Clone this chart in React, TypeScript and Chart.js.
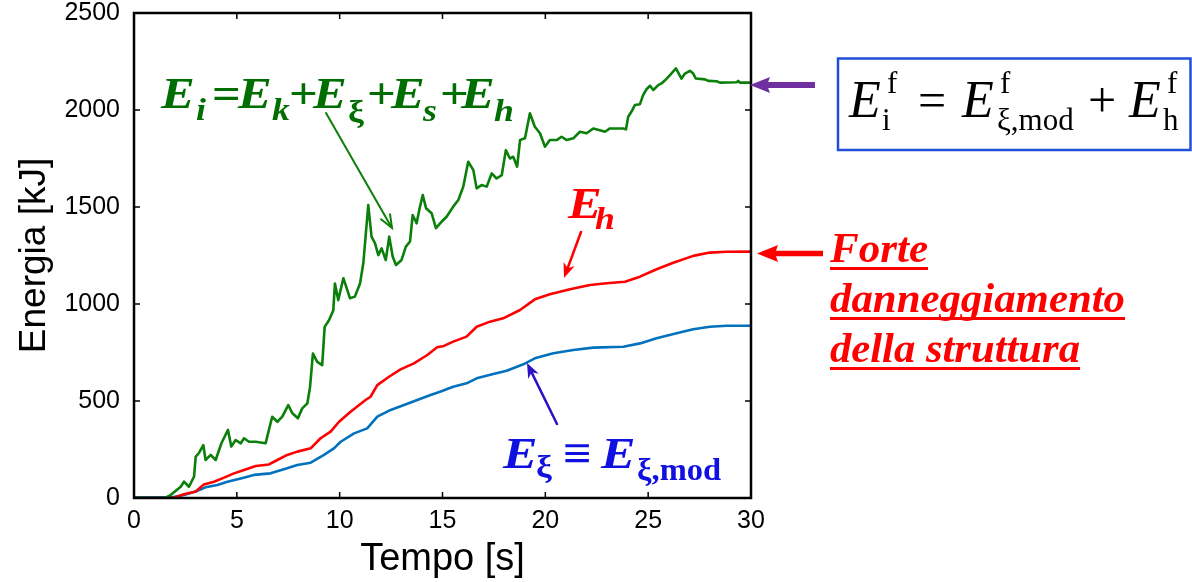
import React, { useEffect, useRef } from "react";
import { Chart, registerables } from "chart.js";

Chart.register(...registerables);

// ---- data ----
const inputTime = [
  0, 1.5, 1.78, 2.27, 2.43, 2.67, 2.92, 3.0, 3.16, 3.37, 3.48, 3.73, 3.97, 4.25, 4.57, 4.73, 4.94, 5.19,
  5.35, 5.59, 5.91, 6.4, 6.56, 6.72, 6.97, 7.21, 7.5, 7.7, 7.97, 8.18, 8.43, 8.56, 8.7, 8.91, 9.15, 9.27,
  9.48, 9.69, 9.77, 9.93, 10.18, 10.5, 10.74, 10.99, 11.15, 11.39, 11.55, 11.72, 11.88, 12.04, 12.24,
  12.41, 12.58, 12.74, 13.01, 13.22, 13.42, 13.55, 13.74, 13.87, 14.04, 14.2, 14.47, 14.68, 14.96, 15.2,
  15.52, 15.77, 16.01, 16.25, 16.5, 16.66, 16.9, 17.15, 17.39, 17.63, 17.88, 18.08, 18.28, 18.44, 18.63,
  18.77, 19.01, 19.25, 19.49, 19.74, 19.98, 20.22, 20.55, 20.79, 21.04, 21.36, 21.68, 22.01, 22.33, 22.65,
  22.9, 23.14, 23.79, 23.92, 24.03, 24.19, 24.36, 24.6, 24.76, 24.92, 25.09, 25.25, 25.49, 25.65, 25.82,
  26.06, 26.35, 26.62, 26.79, 27.03, 27.19, 27.32, 27.76, 27.92, 28.33, 28.49, 29.3, 29.38, 29.46, 30,
];
const inputEnergy = [
  0, 0, 15, 58, 84, 58, 110, 213, 232, 273, 196, 222, 196, 282, 351, 265, 299, 282,
  308, 290, 290, 282, 351, 419, 393, 419, 479, 437, 411, 462, 488, 573, 744, 702, 685, 882,
  916, 967, 1106, 1020, 1133, 1030, 1038, 1106, 1210, 1510, 1347, 1313, 1252, 1287, 1227,
  1347, 1244, 1201, 1227, 1296, 1322, 1459, 1416, 1485, 1562, 1494, 1468, 1391, 1425, 1450,
  1502, 1536, 1605, 1733, 1690, 1596, 1613, 1605, 1673, 1647, 1664, 1793, 1750, 1759, 1708,
  1845, 1854, 1983, 1914, 1880, 1811, 1845, 1845, 1862, 1845, 1854, 1888, 1880, 1905, 1896,
  1888, 1905, 1905, 1900, 1965, 1992, 2026, 2030, 2078, 2107, 2125, 2103, 2128, 2137, 2153,
  2180, 2214, 2162, 2188, 2202, 2188, 2162, 2158, 2150, 2148, 2141, 2143, 2150, 2141, 2141,
];

const hystTime = [
  0, 1.6, 1.94, 2.43, 3.0, 3.4, 3.89, 4.38, 4.86, 5.35, 5.92, 6.56, 6.97, 7.45, 7.94, 8.59, 9.07, 9.56,
  9.97, 10.53, 11.26, 11.5, 11.83, 12.4, 12.96, 13.61, 14.26, 14.74, 15.07, 15.52, 16.17, 16.66, 17.31,
  17.95, 18.77, 19.49, 20.22, 21.2, 22.17, 22.98, 23.87, 24.6, 25.41, 26.22, 27.19, 28.0, 28.81, 30,
];
const hystEnergy = [
  0, 0, 2, 19, 33, 70, 84, 105, 127, 144, 165, 173, 196, 222, 239, 256, 308, 342,
  393, 445, 505, 522, 582, 625, 663, 694, 737, 777, 784, 806, 832, 883, 909,
  926, 969, 1024, 1050, 1076, 1098, 1107, 1115, 1141, 1179, 1213, 1248, 1265, 1269, 1270,
];

const dampTime = [
  0, 1.8, 2.43, 3.0, 3.48, 4.05, 4.54, 5.19, 5.83, 6.64, 7.29, 7.94, 8.59, 9.24, 9.72, 10.05, 10.7,
  11.34, 11.83, 12.48, 13.13, 13.77, 14.42, 14.88, 15.52, 16.17, 16.66, 17.47, 18.12, 18.93, 19.49,
  20.39, 21.36, 22.33, 23.79, 24.6, 25.41, 26.38, 27.19, 28.0, 28.81, 30,
];
const dampEnergy = [
  3, 3, 15, 33, 55, 67, 84, 101, 119, 127, 148, 170, 182, 222, 256, 290, 333,
  359, 419, 454, 479, 505, 531, 548, 573, 591, 617, 639, 656, 689, 720,
  746, 763, 775, 780, 797, 823, 849, 870, 883, 888, 888,
];

const xTickValues = [0, 5, 10, 15, 20, 25, 30];
const yTickValues = [0, 500, 1000, 1500, 2000, 2500];

const SANS = "'Liberation Sans', Arial, sans-serif";
const SERIF = "'Liberation Serif', 'Times New Roman', serif";

const GREEN_LINE = "#0a800a";
const GREEN_TEXT = "#006e00";
const RED = "#ff0000";
const BLUE_LINE = "#0072bd";
const BLUE_TEXT = "#1010e0";
const BLUE_ARROW = "#2c10c4";
const PURPLE = "#7030a0";
const BOX = "#1f4fd8";

const toPoints = (xs: number[], ys: number[]) => xs.map((x, i) => ({ x, y: ys[i] }));

function txt(ctx: CanvasRenderingContext2D, s: string, x: number, y: number, font: string, color: string, sx = 1) {
  ctx.save();
  ctx.font = font;
  ctx.fillStyle = color;
  ctx.textAlign = "left";
  ctx.textBaseline = "alphabetic";
  ctx.translate(x, y);
  ctx.scale(sx, 1);
  ctx.fillText(s, 0, 0);
  ctx.restore();
}

function fitTxt(ctx: CanvasRenderingContext2D, s: string, x: number, y: number, font: string, color: string, w: number) {
  ctx.save();
  ctx.font = font;
  const m = ctx.measureText(s).width;
  ctx.restore();
  txt(ctx, s, x, y, font, color, w / m);
}

function lineArrow(ctx: CanvasRenderingContext2D, x1: number, y1: number, x2: number, y2: number, color: string, lw: number, head: number, filled: boolean) {
  const ang = Math.atan2(y2 - y1, x2 - x1);
  ctx.save();
  ctx.strokeStyle = color;
  ctx.fillStyle = color;
  ctx.lineWidth = lw;
  ctx.lineCap = "round";
  ctx.beginPath();
  ctx.moveTo(x1, y1);
  ctx.lineTo(x2 - Math.cos(ang) * (filled ? head * 0.6 : 1), y2 - Math.sin(ang) * (filled ? head * 0.6 : 1));
  ctx.stroke();
  const a1 = ang + Math.PI - 0.38;
  const a2 = ang + Math.PI + 0.38;
  if (filled) {
    ctx.beginPath();
    ctx.moveTo(x2, y2);
    ctx.lineTo(x2 + Math.cos(a1) * head, y2 + Math.sin(a1) * head);
    ctx.lineTo(x2 - Math.cos(ang) * head * 0.65, y2 - Math.sin(ang) * head * 0.65);
    ctx.lineTo(x2 + Math.cos(a2) * head, y2 + Math.sin(a2) * head);
    ctx.closePath();
    ctx.fill();
  } else {
    ctx.beginPath();
    ctx.moveTo(x2 + Math.cos(a1) * head, y2 + Math.sin(a1) * head);
    ctx.lineTo(x2, y2);
    ctx.lineTo(x2 + Math.cos(a2) * head, y2 + Math.sin(a2) * head);
    ctx.stroke();
  }
  ctx.restore();
}

function blockArrow(ctx: CanvasRenderingContext2D, tipX: number, y: number, headBack: number, tailX: number, half: number, shaft: number, color: string) {
  ctx.save();
  ctx.fillStyle = color;
  ctx.fillRect(headBack - 1, y - shaft / 2, tailX - headBack + 1, shaft);
  ctx.beginPath();
  ctx.moveTo(tipX, y);
  ctx.lineTo(headBack + 3, y - half);
  ctx.lineTo(headBack, y);
  ctx.lineTo(headBack + 3, y + half);
  ctx.closePath();
  ctx.fill();
  ctx.restore();
}

const framePlugin = {
  id: "frameTicks",
  afterDatasetsDraw(chart: any) {
    const { ctx, chartArea: a, scales } = chart;
    const x = scales.x;
    const y = scales.y;
    ctx.save();
    ctx.strokeStyle = "#000";
    ctx.lineWidth = 1.5;
    ctx.beginPath();
    x.ticks.forEach((t: any) => {
      const px = x.getPixelForValue(t.value);
      ctx.moveTo(px, a.bottom);
      ctx.lineTo(px, a.bottom - 6);
      ctx.moveTo(px, a.top);
      ctx.lineTo(px, a.top + 6);
    });
    y.ticks.forEach((t: any) => {
      const py = y.getPixelForValue(t.value);
      ctx.moveTo(a.left, py);
      ctx.lineTo(a.left + 6, py);
      ctx.moveTo(a.right, py);
      ctx.lineTo(a.right - 6, py);
    });
    ctx.stroke();
    ctx.lineWidth = 2.5;
    ctx.strokeRect(a.left, a.top, a.right - a.left, a.bottom - a.top);
    ctx.restore();
  },
};

const annotationPlugin = {
  id: "annotations",
  afterDraw(chart: any) {
    const ctx: CanvasRenderingContext2D = chart.ctx;
    const BI = (s: number) => `bold italic ${s}px ${SERIF}`;
    const B = (s: number) => `bold ${s}px ${SERIF}`;
    const I = (s: number) => `italic ${s}px ${SERIF}`;
    const R = (s: number) => `${s}px ${SERIF}`;
    const SX = 1.15;

    // Green formula
    const g = GREEN_TEXT;
    txt(ctx, "E", 161, 108, BI(44), g, SX);
    txt(ctx, "i", 196, 120, BI(31), g, SX);
    txt(ctx, "=", 212, 108, B(44), g, SX);
    txt(ctx, "E", 238, 108, BI(44), g, SX);
    txt(ctx, "k", 272, 120, BI(31), g, SX);
    txt(ctx, "+", 289, 108, B(44), g, SX);
    txt(ctx, "E", 313, 108, BI(44), g, SX);
    txt(ctx, "ξ", 348, 122, B(31), g, SX);
    txt(ctx, "+", 367, 108, B(44), g, SX);
    txt(ctx, "E", 391, 108, BI(44), g, SX);
    txt(ctx, "s", 423, 121, BI(31), g, SX);
    txt(ctx, "+", 440, 108, B(44), g, SX);
    txt(ctx, "E", 461, 108, BI(44), g, SX);
    txt(ctx, "h", 494, 121, BI(31), g, SX);
    lineArrow(ctx, 326, 113, 392, 228, GREEN_LINE, 2, 14, false);

    // Red E_h
    txt(ctx, "E", 568, 218, BI(44), RED, SX);
    txt(ctx, "h", 595, 229, BI(31), RED, SX);
    lineArrow(ctx, 581, 232, 564, 278, RED, 2.5, 16, true);

    // Blue E_xi = E_xi,mod
    txt(ctx, "E", 503, 468, BI(45), BLUE_TEXT, SX);
    txt(ctx, "ξ", 536, 477, B(31), BLUE_TEXT, SX);
    txt(ctx, "≡", 563, 468, B(44), BLUE_TEXT, SX);
    txt(ctx, "E", 601, 468, BI(45), BLUE_TEXT, SX);
    txt(ctx, "ξ,mod", 637, 480, B(31), BLUE_TEXT, 1.05);
    lineArrow(ctx, 557, 424, 527, 363, BLUE_ARROW, 2.5, 16, true);

    // Boxed formula
    ctx.save();
    ctx.strokeStyle = BOX;
    ctx.lineWidth = 2.5;
    ctx.strokeRect(838, 58.5, 352.5, 91.5);
    ctx.restore();
    txt(ctx, "E", 849, 117, I(52), "#000");
    txt(ctx, "f", 887, 93, R(31), "#000");
    txt(ctx, "i", 882, 130, R(31), "#000");
    txt(ctx, "=", 918, 117, R(50), "#000");
    txt(ctx, "E", 962, 117, I(52), "#000");
    txt(ctx, "f", 1000, 93, R(31), "#000");
    txt(ctx, "ξ,mod", 997, 130, R(31), "#000");
    txt(ctx, "+", 1088, 117, R(50), "#000");
    txt(ctx, "E", 1129, 117, I(52), "#000");
    txt(ctx, "f", 1167, 93, R(31), "#000");
    txt(ctx, "h", 1163, 130, R(31), "#000");

    // Block arrows
    blockArrow(ctx, 750, 85, 767, 815, 8, 6, PURPLE);
    blockArrow(ctx, 757, 253.5, 775, 823, 8.5, 5.5, RED);

    // Red text with underline
    const lines: [string, number, number][] = [
      ["Forte", 262, 98],
      ["danneggiamento", 312, 295],
      ["della struttura", 362, 250],
    ];
    lines.forEach(([s, base, w]) => {
      fitTxt(ctx, s, 830, base, BI(42), RED, w);
      ctx.save();
      ctx.fillStyle = RED;
      ctx.fillRect(830, base + 5, w, 3);
      ctx.restore();
    });
  },
};

export default function App() {
  const canvasRef = useRef<HTMLCanvasElement | null>(null);

  useEffect(() => {
    if (!canvasRef.current) return;
    const chart = new Chart(canvasRef.current, {
      type: "line",
      data: {
        datasets: [
          { label: "Ei", data: toPoints(inputTime, inputEnergy), borderColor: GREEN_LINE, borderWidth: 2.6, pointRadius: 0, tension: 0, fill: false },
          { label: "Eh", data: toPoints(hystTime, hystEnergy), borderColor: RED, borderWidth: 2.6, pointRadius: 0, tension: 0, fill: false },
          { label: "Exi", data: toPoints(dampTime, dampEnergy), borderColor: BLUE_LINE, borderWidth: 2.6, pointRadius: 0, tension: 0, fill: false },
        ],
      },
      options: {
        animation: false,
        responsive: false,
        maintainAspectRatio: false,
        devicePixelRatio: 1,
        layout: { padding: { left: 0, top: 13, right: 441, bottom: 0 } },
        plugins: { legend: { display: false }, tooltip: { enabled: false }, title: { display: false } },
        elements: { line: { borderJoinStyle: "round" } },
        scales: {
          x: {
            type: "linear",
            min: 0,
            max: 30,
            grid: { display: false, drawTicks: false },
            border: { display: false },
            afterBuildTicks: (s: any) => {
              s.ticks = xTickValues.map((v) => ({ value: v }));
            },
            afterFit: (s: any) => {
              s.height = 84;
              s.paddingLeft = 0;
              s.paddingRight = 0;
            },
            ticks: {
              color: "#000",
              font: { family: SANS, size: 25, lineHeight: 1 },
              padding: 11,
              maxRotation: 0,
              autoSkip: false,
              callback: (v: any) => String(v),
            },
            title: {
              display: true,
              text: "Tempo [s]",
              color: "#000",
              font: { family: SANS, size: 38 },
              padding: { top: 0, bottom: 0 },
            },
          },
          y: {
            type: "linear",
            min: 0,
            max: 2500,
            grid: { display: false, drawTicks: false },
            border: { display: false },
            afterBuildTicks: (s: any) => {
              s.ticks = yTickValues.map((v) => ({ value: v }));
            },
            afterFit: (s: any) => {
              s.width = 134;
              s.paddingTop = 0;
              s.paddingBottom = 0;
            },
            ticks: {
              color: "#000",
              font: { family: SANS, size: 25, lineHeight: 1 },
              padding: 14,
              autoSkip: false,
              callback: (v: any) => String(v),
            },
            title: {
              display: true,
              text: "Energia [kJ]",
              color: "#000",
              font: { family: SANS, size: 37 },
              padding: { top: 13, bottom: 0 },
            },
          },
        },
      },
      plugins: [framePlugin, annotationPlugin],
    });
    return () => chart.destroy();
  }, []);

  return (
    <div style={{ position: "fixed", left: 0, top: 0, width: 1192, height: 582, background: "#fff" }}>
      <canvas ref={canvasRef} width={1192} height={582} style={{ display: "block", width: 1192, height: 582 }} />
    </div>
  );
}
